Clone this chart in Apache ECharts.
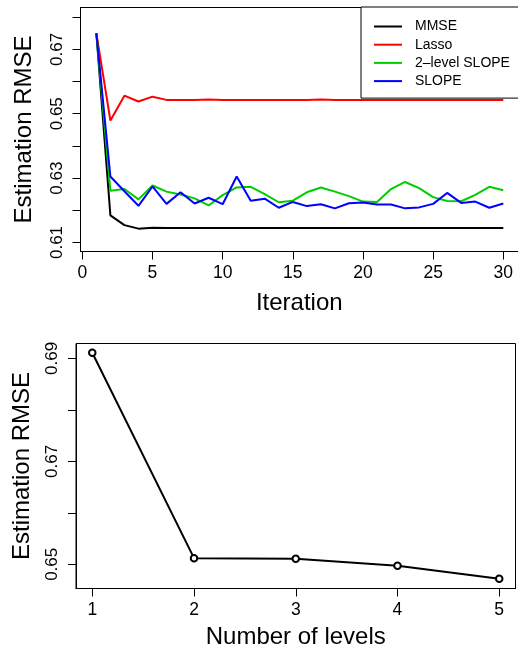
<!DOCTYPE html>
<html>
<head>
<meta charset="utf-8">
<script src="https://cdn.jsdelivr.net/npm/echarts@6/dist/echarts.min.js"></script>
<style>
html,body{margin:0;padding:0;background:#fff;}
#chart{width:518px;height:647px;}
</style>
</head>
<body>
<div id="chart"></div>
<script>
// ---- Data (top panel) ----
const iterations = [1,2,3,4,5,6,7,8,9,10,11,12,13,14,15,16,17,18,19,20,21,22,23,24,25,26,27,28,29,30];
const mmse = [0.6750,0.6184,0.6154,0.6143,0.6146,0.6145,0.6145,0.6145,0.6145,0.6145,0.6145,0.6145,0.6145,0.6145,0.6145,0.6145,0.6145,0.6145,0.6145,0.6145,0.6145,0.6145,0.6145,0.6145,0.6145,0.6145,0.6145,0.6145,0.6145,0.6145];
const lasso = [0.6750,0.6479,0.6556,0.6538,0.6553,0.6543,0.6543,0.6543,0.6544,0.6543,0.6543,0.6543,0.6543,0.6543,0.6543,0.6543,0.6544,0.6543,0.6543,0.6543,0.6543,0.6543,0.6543,0.6543,0.6543,0.6543,0.6543,0.6543,0.6543,0.6543];
const slope2 = [0.6750,0.6261,0.6266,0.6234,0.6277,0.6258,0.6249,0.6237,0.6215,0.6247,0.6271,0.6273,0.6250,0.6225,0.6230,0.6256,0.6271,0.6258,0.6244,0.6227,0.6226,0.6266,0.6288,0.6269,0.6241,0.6229,0.6228,0.6248,0.6273,0.6262];
const slope = [0.6750,0.6305,0.6259,0.6214,0.6274,0.6220,0.6256,0.6221,0.6239,0.6219,0.6305,0.6230,0.6236,0.6208,0.6226,0.6213,0.6219,0.6206,0.6222,0.6224,0.6218,0.6218,0.6206,0.6209,0.6220,0.6254,0.6223,0.6227,0.6208,0.6221];
const topXTicks = [0,5,10,15,20,25,30];
const topYTicks = [0.61,0.62,0.63,0.64,0.65,0.66,0.67,0.68];
const topYLabels = [0.61,0.63,0.65,0.67];

// ---- Data (bottom panel) ----
const levels = [1,2,3,4,5];
const levelRmse = [0.6911,0.6512,0.6511,0.6497,0.6472];
const botXTicks = [1,2,3,4,5];
const botYTicks = [0.65,0.66,0.67,0.68,0.69];
const botYLabels = [0.65,0.67,0.69];

const FONT = '"Liberation Sans", Arial, Helvetica, sans-serif';
const pair = (xs, ys) => xs.map((x, i) => [x, ys[i]]);

const chart = echarts.init(document.getElementById('chart'), null, {renderer: 'canvas'});

function xAxisCfg(gridIndex, min, max, ticks, name, nameGap, margin) {
  return {
    type: 'value', gridIndex, min, max, position: 'bottom',
    name, nameLocation: 'middle', nameGap,
    nameTextStyle: {fontFamily: FONT, fontSize: 24, color: '#000'},
    axisLine: {show: true, onZero: false, lineStyle: {color: '#000', width: 1}},
    axisTick: {show: true, length: 8, customValues: ticks, lineStyle: {color: '#000', width: 1}},
    axisLabel: {show: true, customValues: ticks, margin, fontFamily: FONT, fontSize: 17.5, color: '#000',
      formatter: v => String(Math.round(v))},
    splitLine: {show: false}
  };
}
function yAxisCfg(gridIndex, min, max, ticks, labels, name, nameGap, margin) {
  return {
    type: 'value', gridIndex, min, max,
    name, nameLocation: 'middle', nameGap,
    nameTextStyle: {fontFamily: FONT, fontSize: 24, color: '#000'},
    axisLine: {show: true, onZero: false, lineStyle: {color: '#000', width: 1}},
    axisTick: {show: true, length: 8, customValues: ticks, lineStyle: {color: '#000', width: 1}},
    axisLabel: {show: true, customValues: labels, rotate: 90, margin, fontFamily: FONT, fontSize: 17, color: '#000',
      formatter: v => v.toFixed(2)},
    splitLine: {show: false}
  };
}

const option = {
  animation: false,
  backgroundColor: '#fff',
  grid: [
    {left: 80.5, top: 7.5, width: 437.5, height: 244, show: false,
      outerBoundsMode: 'none', containLabel: false},
    {left: 76, top: 343.5, width: 439.5, height: 245, show: true, borderColor: '#000', borderWidth: 1,
      backgroundColor: 'transparent', outerBoundsMode: 'none', containLabel: false}
  ],
  xAxis: [
    xAxisCfg(0, -0.13, 31.047, topXTicks, 'Iteration', 40, 13),
    xAxisCfg(1, 0.84, 5.16, botXTicks, 'Number of levels', 37, 13),
    // top border line of the upper panel box
    {type: 'value', gridIndex: 0, min: -0.13, max: 31.047, position: 'top',
      axisLine: {show: true, onZero: false, lineStyle: {color: '#000', width: 1}},
      axisTick: {show: false}, axisLabel: {show: false}, splitLine: {show: false}}
  ],
  yAxis: [
    yAxisCfg(0, 0.6072, 0.6830, topYTicks, topYLabels, 'Estimation RMSE', 44, 15),
    yAxisCfg(1, 0.6453, 0.6929, botYTicks, botYLabels, 'Estimation RMSE', 42, 15)
  ],
  legend: {
    orient: 'vertical',
    left: 361, top: 7,
    data: ['MMSE', 'Lasso', '2\u2013level SLOPE', 'SLOPE'],
    icon: 'rect',
    itemWidth: 28, itemHeight: 2,
    itemGap: 4.2,
    padding: [12.5, 30, 10, 13],
    backgroundColor: '#fff',
    borderColor: '#000', borderWidth: 1,
    textStyle: {fontFamily: FONT, fontSize: 14, color: '#000', lineHeight: 14, padding: [0, 0, 0, 8]},
    selectedMode: false
  },
  series: [
    {name: 'MMSE', type: 'line', xAxisIndex: 0, yAxisIndex: 0, data: pair(iterations, mmse),
      symbol: 'none', color: '#000000', lineStyle: {color: '#000000', width: 2}},
    {name: 'Lasso', type: 'line', xAxisIndex: 0, yAxisIndex: 0, data: pair(iterations, lasso),
      symbol: 'none', color: '#ff0000', lineStyle: {color: '#ff0000', width: 2}},
    {name: '2\u2013level SLOPE', type: 'line', xAxisIndex: 0, yAxisIndex: 0, data: pair(iterations, slope2),
      symbol: 'none', color: '#00cd00', lineStyle: {color: '#00cd00', width: 2}},
    {name: 'SLOPE', type: 'line', xAxisIndex: 0, yAxisIndex: 0, data: pair(iterations, slope),
      symbol: 'none', color: '#0000ff', lineStyle: {color: '#0000ff', width: 2}},
    {name: 'levels', type: 'line', xAxisIndex: 1, yAxisIndex: 1, data: pair(levels, levelRmse),
      symbol: 'circle', symbolSize: 6.5, showSymbol: true,
      lineStyle: {color: '#000', width: 2},
      itemStyle: {color: '#fff', borderColor: '#000', borderWidth: 2}}
  ]
};
chart.setOption(option);
</script>
</body>
</html>
